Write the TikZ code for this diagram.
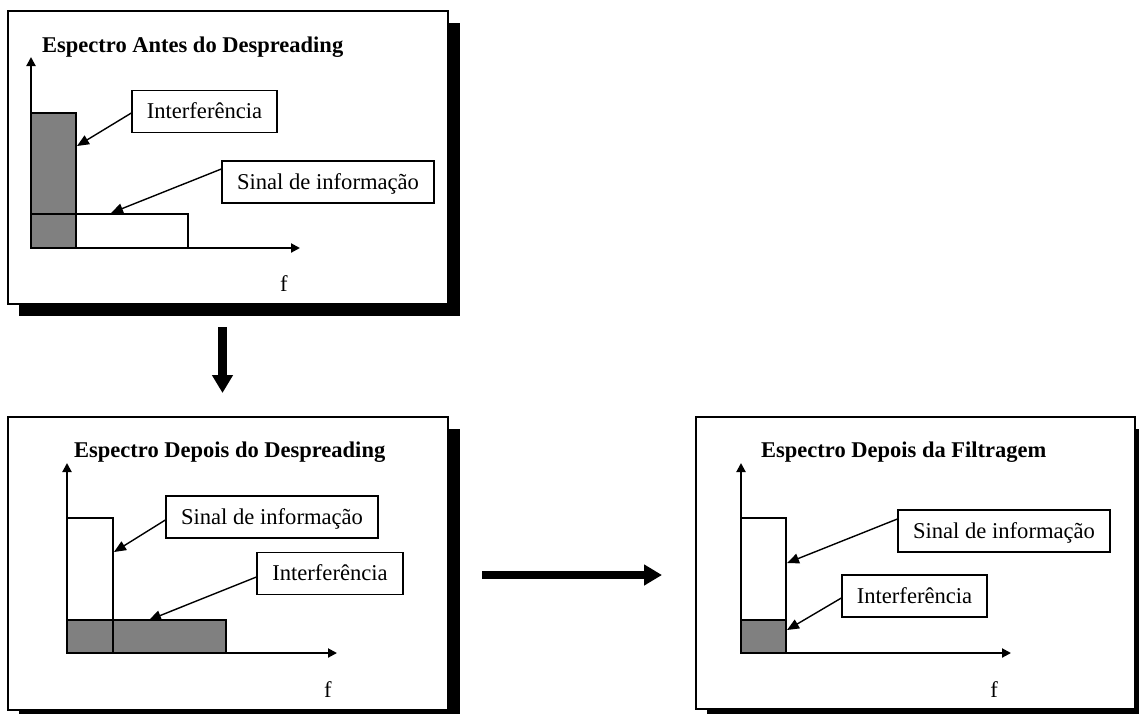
\documentclass[tikz,border=0pt]{standalone}
\usepackage{fontspec}
\setmainfont{Liberation Serif}
\usetikzlibrary{arrows.meta}
\begin{document}
\begin{tikzpicture}[x=1pt,y=-1pt,
  frame/.style={draw=black, line width=1.3pt, fill=white, inner sep=0pt},
  shadowbox/.style={fill=black},
  ttl/.style={font=\fontsize{22.5}{26}\selectfont\bfseries, anchor=base west, inner sep=0pt},
  lbl/.style={draw, line width=1.3pt, fill=white, font=\fontsize{22.6}{26}\selectfont, text height=14.9pt, text depth=0pt, inner sep=0pt, minimum height=42pt},
  axis/.style={line width=2pt, -{Triangle[length=9pt,width=9pt]}},
  grayfill/.style={draw, line width=1.5pt, fill=black!50},
  whitebar/.style={draw, line width=1.5pt},
  call/.style={line width=1.4pt, -{Triangle[length=12pt,width=10pt]}},
  bigarrow/.style={line width=8.5pt, -{Triangle[length=18pt,width=20pt]}},
  flab/.style={font=\fontsize{22.6}{26}\selectfont, anchor=base, inner sep=0pt}
]
\useasboundingbox (0,0) rectangle (1139,713);
\clip (0,0) rectangle (1139,713);

% ---------- Panel 1 ----------
\fill[shadowbox] (19,23) rectangle (460,316);
\node[frame, minimum width=440pt, minimum height=293pt] (p1) at (228,157.5) {};
\node[ttl] (t1) at (42,52) {Espectro Antes do Despreading};
\draw[grayfill] (31,113) rectangle (76,248);
\draw[whitebar] (31,214) rectangle (188,248);
\coordinate (o1) at (31,248);
\coordinate (y1) at (31,57);
\coordinate (x1) at (300,248);
\draw[axis] (o1) -- (y1);
\draw[axis] (o1) -- (x1);
\node[lbl, minimum width=145pt] (i1) at (204.5,111.5) {Interferência};
\node[lbl, minimum width=212pt] (s1) at (328,182) {Sinal de informação};
\coordinate (ei1) at (77,146);
\coordinate (es1) at (111,213);
\draw[call] ([yshift=-1.5pt]i1.west) -- (ei1);
\draw[call] ([yshift=13pt]s1.west) -- (es1);
\node[flab] (f1) at (284,291) {f};

% ---------- Panel 2 ----------
\fill[shadowbox] (19,429) rectangle (460,722);
\node[frame, minimum width=440pt, minimum height=293pt] (p2) at (228,563.5) {};
\node[ttl] (t2) at (74,457.5) {Espectro Depois do Despreading};
\draw[grayfill] (67,620) rectangle (226,653);
\draw[whitebar] (67,518) rectangle (113,653);
\coordinate (o2) at (67,653);
\coordinate (y2) at (67,463);
\coordinate (x2) at (337,653);
\draw[axis] (o2) -- (y2);
\draw[axis] (o2) -- (x2);
\node[lbl, minimum width=212pt] (s2) at (272,517) {Sinal de informação};
\node[lbl, minimum width=146pt] (i2) at (330,573.5) {Interferência};
\coordinate (es2) at (114,552);
\coordinate (ei2) at (149,620);
\draw[call] ([yshift=-3pt]s2.west) -- (es2);
\draw[call] ([yshift=-3.5pt]i2.west) -- (ei2);
\node[flab] (f2) at (328,697) {f};

% ---------- Panel 3 ----------
\fill[shadowbox] (707,429) rectangle (1147,721);
\node[frame, minimum width=439pt, minimum height=292pt] (p3) at (915.5,563) {};
\node[ttl] (t3) at (761,457) {Espectro Depois da Filtragem};
\draw[whitebar] (741,518) rectangle (786,653);
\draw[grayfill] (741,620) rectangle (786,653);
\coordinate (o3) at (741,653);
\coordinate (y3) at (741,463);
\coordinate (x3) at (1011,653);
\draw[axis] (o3) -- (y3);
\draw[axis] (o3) -- (x3);
\node[lbl, minimum width=212pt] (s3) at (1004,531) {Sinal de informação};
\node[lbl, minimum width=145pt] (i3) at (914.5,596) {Interferência};
\coordinate (es3) at (787,563);
\coordinate (ei3) at (787,630);
\draw[call] ([yshift=12pt]s3.west) -- (es3);
\draw[call] ([yshift=-2pt]i3.west) -- (ei3);
\node[flab] (f3) at (994,697) {f};

% ---------- big arrows ----------
\coordinate (da) at (222.5,327);
\coordinate (db) at (222.5,393);
\draw[bigarrow] (da) -- (db);
\coordinate (ra) at (482,575);
\coordinate (rb) at (662,575);
\draw[bigarrow] (ra) -- (rb);
\end{tikzpicture}
\end{document}
